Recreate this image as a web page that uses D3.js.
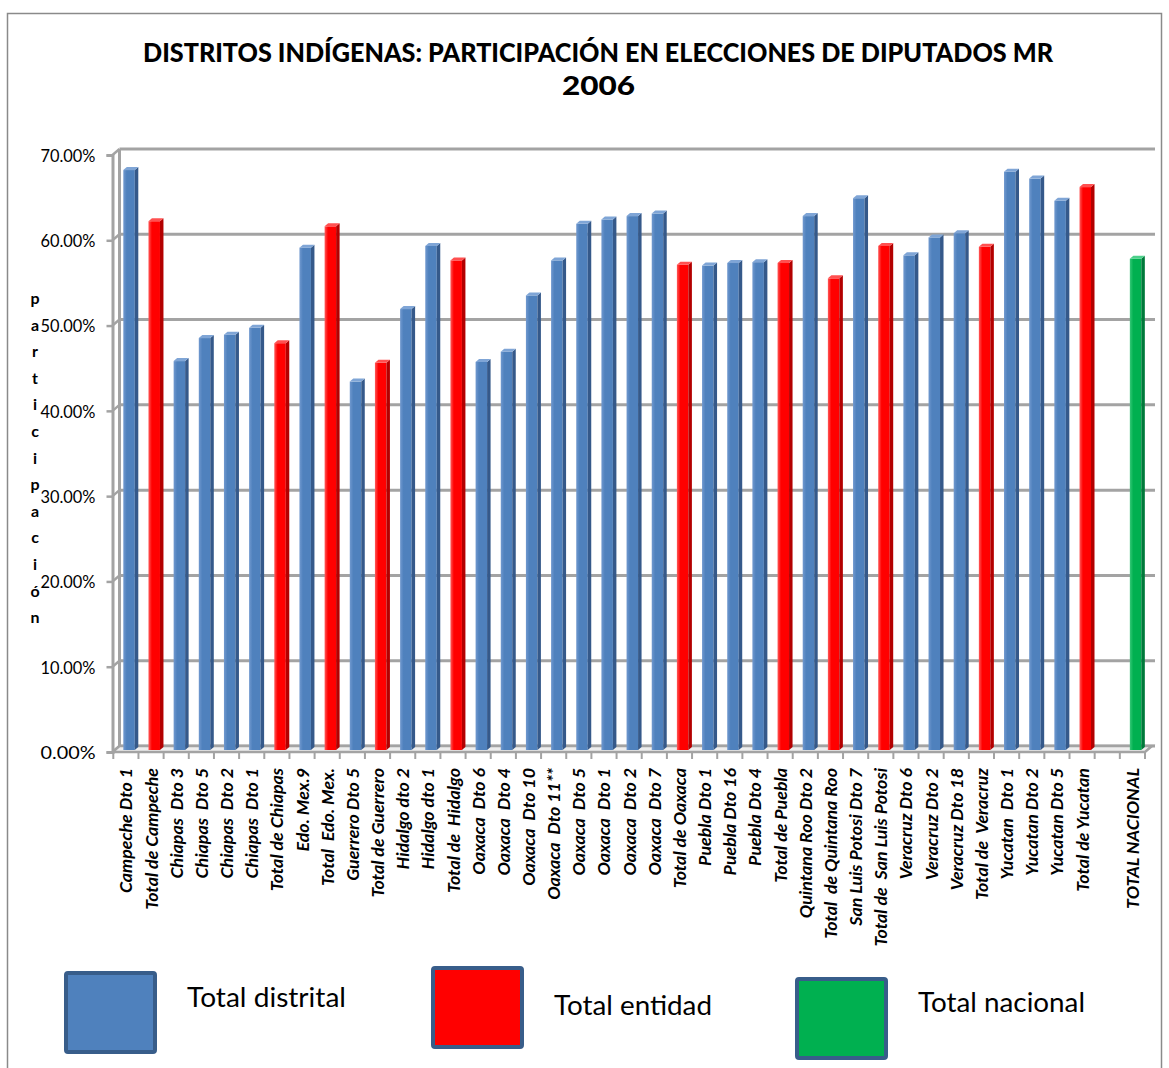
<!DOCTYPE html>
<html>
<head>
<meta charset="utf-8">
<script src="https://cdn.jsdelivr.net/npm/d3@7"></script>
<style>
  html, body { margin: 0; padding: 0; background: #ffffff; }
  svg text { white-space: pre; }
</style>
</head>
<body>
<svg id="chart" width="1169" height="1068"></svg>
<script>
// Participation per district and per state, 2006 federal deputies (MR)
const categories = [
  "Campeche Dto 1", "Total de Campeche",
  "Chiapas  Dto 3", "Chiapas  Dto 5", "Chiapas  Dto 2", "Chiapas  Dto 1", "Total de Chiapas",
  "Edo. Mex.9", "Total  Edo. Mex.",
  "Guerrero Dto 5", "Total de Guerrero",
  "Hidalgo dto 2", "Hidalgo dto 1", "Total de  Hidalgo",
  "Oaxaca  Dto 6", "Oaxaca  Dto 4", "Oaxaca  Dto 10", "Oaxaca  Dto 11**", "Oaxaca  Dto 5",
  "Oaxaca  Dto 1", "Oaxaca  Dto 2", "Oaxaca  Dto 7", "Total de Oaxaca",
  "Puebla Dto 1", "Puebla Dto 16", "Puebla Dto 4", "Total de Puebla",
  "Quintana Roo Dto 2", "Total  de Quintana Roo",
  "San Luis Potosi Dto 7", "Total de  San Luis Potosi",
  "Veracruz Dto 6", "Veracruz Dto 2", "Veracruz Dto 18", "Total de  Veracruz",
  "Yucatan  Dto 1", "Yucatan Dto 2", "Yucatan Dto 5", "Total de Yucatan",
  "", "TOTAL NACIONAL"
];

// Participation in percent
const participation = [
  68.0, 62.0,
  45.6, 48.3, 48.7, 49.5, 47.7,
  58.9, 61.4,
  43.2, 45.4,
  51.7, 59.1, 57.4,
  45.5, 46.7, 53.3, 57.4, 61.7,
  62.2, 62.6, 62.9, 56.9,
  56.8, 57.1, 57.2, 57.1,
  62.6, 55.3,
  64.7, 59.1,
  58.0, 60.1, 60.6, 59.0,
  67.8, 67.0, 64.4, 66.0,
  null, 57.6
];

// Level of each bar: d = district, e = state, n = national
const levels = [
  "d", "e",
  "d", "d", "d", "d", "e",
  "d", "e",
  "d", "e",
  "d", "d", "e",
  "d", "d", "d", "d", "d",
  "d", "d", "d", "e",
  "d", "d", "d", "e",
  "d", "e",
  "d", "e",
  "d", "d", "d", "e",
  "d", "d", "d", "e",
  "", "n"
];

const yTicks = [0, 10, 20, 30, 40, 50, 60, 70];
const axisTitle = "participación";
const titleLines = ["DISTRITOS INDÍGENAS: PARTICIPACIÓN EN ELECCIONES DE DIPUTADOS MR", "2006"];
const legendItems = [
  { key: "d", label: "Total distrital" },
  { key: "e", label: "Total entidad" },
  { key: "n", label: "Total nacional" }
];

const palette = {
  d: { front: "#4F81BD", light: "#7199CF", side: "#35598A", top: "#7FA5D6" },
  e: { front: "#FF0000", light: "#FF5A5A", side: "#B30000", top: "#FF5050" },
  n: { front: "#00B050", light: "#36C877", side: "#00793A", top: "#4CD08A" }
};

const svg = d3.select("#chart");
const defs = svg.append("defs");
Object.entries(palette).forEach(([k, c]) => {
  const g = defs.append("linearGradient").attr("id", "grad-" + k)
    .attr("x1", "0%").attr("x2", "100%").attr("y1", "0%").attr("y2", "0%");
  g.append("stop").attr("offset", "0%").attr("stop-color", c.light);
  g.append("stop").attr("offset", "30%").attr("stop-color", c.front);
  g.append("stop").attr("offset", "100%").attr("stop-color", c.front);
});

// Chart frame
svg.append("rect")
  .attr("x", 7.5).attr("y", 13.5).attr("width", 1154).attr("height", 1070)
  .attr("fill", "none").attr("stroke", "#8a8a8a").attr("stroke-width", 1.5);

// Title
svg.append("text")
  .attr("x", 143).attr("y", 62)
  .attr("font-family", "Lato, 'Open Sans', sans-serif")
  .attr("font-weight", "900").attr("font-size", 26.5)
  .attr("textLength", 910).attr("lengthAdjust", "spacingAndGlyphs")
  .text(titleLines[0]);
svg.append("text")
  .attr("x", 562).attr("y", 95)
  .attr("font-family", "Lato, 'Open Sans', sans-serif")
  .attr("font-weight", "900").attr("font-size", 26.5)
  .attr("textLength", 73).attr("lengthAdjust", "spacingAndGlyphs")
  .text(titleLines[1]);

// Scales
const y = d3.scaleLinear().domain([0, 70]).range([752, 155]);
const x = d3.scaleBand().domain(d3.range(categories.length)).range([113.3, 1145]).padding(0);
const bw = x.bandwidth();
const depthX = 7, depthY = 6;          // offset from the front plane to the back wall
const axisX = 112.5;

const gridColor = "#a3a3a3";

// Back wall gridlines
svg.append("g").selectAll("line").data(yTicks).join("line")
  .attr("x1", axisX + depthX).attr("x2", 1155)
  .attr("y1", d => y(d) - depthY).attr("y2", d => y(d) - depthY)
  .attr("stroke", gridColor).attr("stroke-width", 3);

// Side wall: back edge, front axis and connectors
svg.append("line")
  .attr("x1", axisX + depthX).attr("x2", axisX + depthX)
  .attr("y1", y(70) - depthY).attr("y2", y(0) - depthY)
  .attr("stroke", gridColor).attr("stroke-width", 3);
svg.append("g").selectAll("line").data(yTicks).join("line")
  .attr("x1", axisX).attr("x2", axisX + depthX)
  .attr("y1", d => y(d)).attr("y2", d => y(d) - depthY)
  .attr("stroke", gridColor).attr("stroke-width", 2.5);

// Floor
svg.append("path")
  .attr("d", `M${axisX},${y(0)} L1145,${y(0)} L${1145 + depthX},${y(0) - depthY} L${axisX + depthX},${y(0) - depthY} Z`)
  .attr("fill", "#eeeeee").attr("stroke", gridColor).attr("stroke-width", 2.5);

// Front value axis
const yAxis = d3.axisLeft(y).tickValues(yTicks).tickSize(6)
  .tickFormat(d => d3.format(".2%")(d / 100));
const yAxisG = svg.append("g").attr("transform", `translate(${axisX},0)`).call(yAxis);
yAxisG.select(".domain").attr("stroke", gridColor).attr("stroke-width", 3);
yAxisG.selectAll(".tick line").attr("stroke", gridColor).attr("stroke-width", 2.5);
yAxisG.selectAll(".tick text")
  .attr("x", -17).attr("dy", "0.36em")
  .attr("font-family", "Lato, 'Open Sans', sans-serif")
  .attr("font-size", 17.5).attr("fill", "#000")
  .attr("textLength", 55).attr("lengthAdjust", "spacingAndGlyphs");

// Category tick marks along the floor edge
svg.append("g").selectAll("line").data(d3.range(categories.length + 1)).join("line")
  .attr("x1", i => 113.3 + i * bw).attr("x2", i => 113.3 + i * bw)
  .attr("y1", y(0)).attr("y2", y(0) + 7)
  .attr("stroke", gridColor).attr("stroke-width", 2);

// 3D-style columns
const faceX = 10, faceW = 11.5, sideW = 3.5, capH = 3, sink = 2;
const bars = svg.append("g").selectAll("g")
  .data(participation.map((v, i) => ({ v, i, k: levels[i] })).filter(d => d.v !== null))
  .join("g");
bars.append("rect")
  .attr("x", d => x(d.i) + faceX).attr("y", d => y(d.v) - sink)
  .attr("width", faceW).attr("height", d => y(0) - y(d.v))
  .attr("fill", d => `url(#grad-${d.k})`);
bars.append("path")
  .attr("d", d => {
    const x0 = x(d.i) + faceX + faceW, yt = y(d.v) - sink, yb = y(0) - sink;
    return `M${x0},${yt} L${x0 + sideW},${yt - capH} L${x0 + sideW},${yb - capH} L${x0},${yb} Z`;
  })
  .attr("fill", d => palette[d.k].side);
bars.append("path")
  .attr("d", d => {
    const x0 = x(d.i) + faceX, yt = y(d.v) - sink;
    return `M${x0},${yt} L${x0 + sideW},${yt - capH} L${x0 + faceW + sideW},${yt - capH} L${x0 + faceW},${yt} Z`;
  })
  .attr("fill", d => palette[d.k].top);

// Category labels
svg.append("g").selectAll("text").data(categories).join("text")
  .attr("transform", (d, i) => `translate(${x(i) + bw / 2 + 6.5},768) rotate(-90)`)
  .attr("text-anchor", "end")
  .attr("font-family", "Lato, 'Open Sans', sans-serif")
  .attr("font-weight", "bold").attr("font-style", "italic")
  .attr("font-size", 17.8).attr("fill", "#000")
  .text(d => d);

// Vertical axis title, one letter per line
svg.append("g").selectAll("text").data(Array.from(axisTitle)).join("text")
  .attr("x", 35).attr("y", (d, i) => 304 + i * 26.6)
  .attr("text-anchor", "middle")
  .attr("font-family", "Lato, 'Open Sans', sans-serif")
  .attr("font-weight", "bold").attr("font-size", 16).attr("fill", "#000")
  .text(d => d);

// Legend
const legendPos = [
  { bx: 66, by: 973, tx: 187, ty: 1007, tw: 159 },
  { bx: 433, by: 968, tx: 554, ty: 1015, tw: 158 },
  { bx: 797, by: 979, tx: 918, ty: 1012, tw: 167 }
];
const legend = svg.append("g").selectAll("g").data(legendItems).join("g");
legend.append("rect")
  .attr("x", (d, i) => legendPos[i].bx).attr("y", (d, i) => legendPos[i].by)
  .attr("width", 89).attr("height", 79).attr("rx", 2)
  .attr("fill", d => palette[d.key].front)
  .attr("stroke", "#385D8A").attr("stroke-width", 4);
legend.append("text")
  .attr("x", (d, i) => legendPos[i].tx).attr("y", (d, i) => legendPos[i].ty)
  .attr("textLength", (d, i) => legendPos[i].tw).attr("lengthAdjust", "spacingAndGlyphs")
  .attr("font-family", "Lato, 'Open Sans', sans-serif")
  .attr("font-size", 27).attr("fill", "#000")
  .text(d => d.label);
</script>
</body>
</html>
